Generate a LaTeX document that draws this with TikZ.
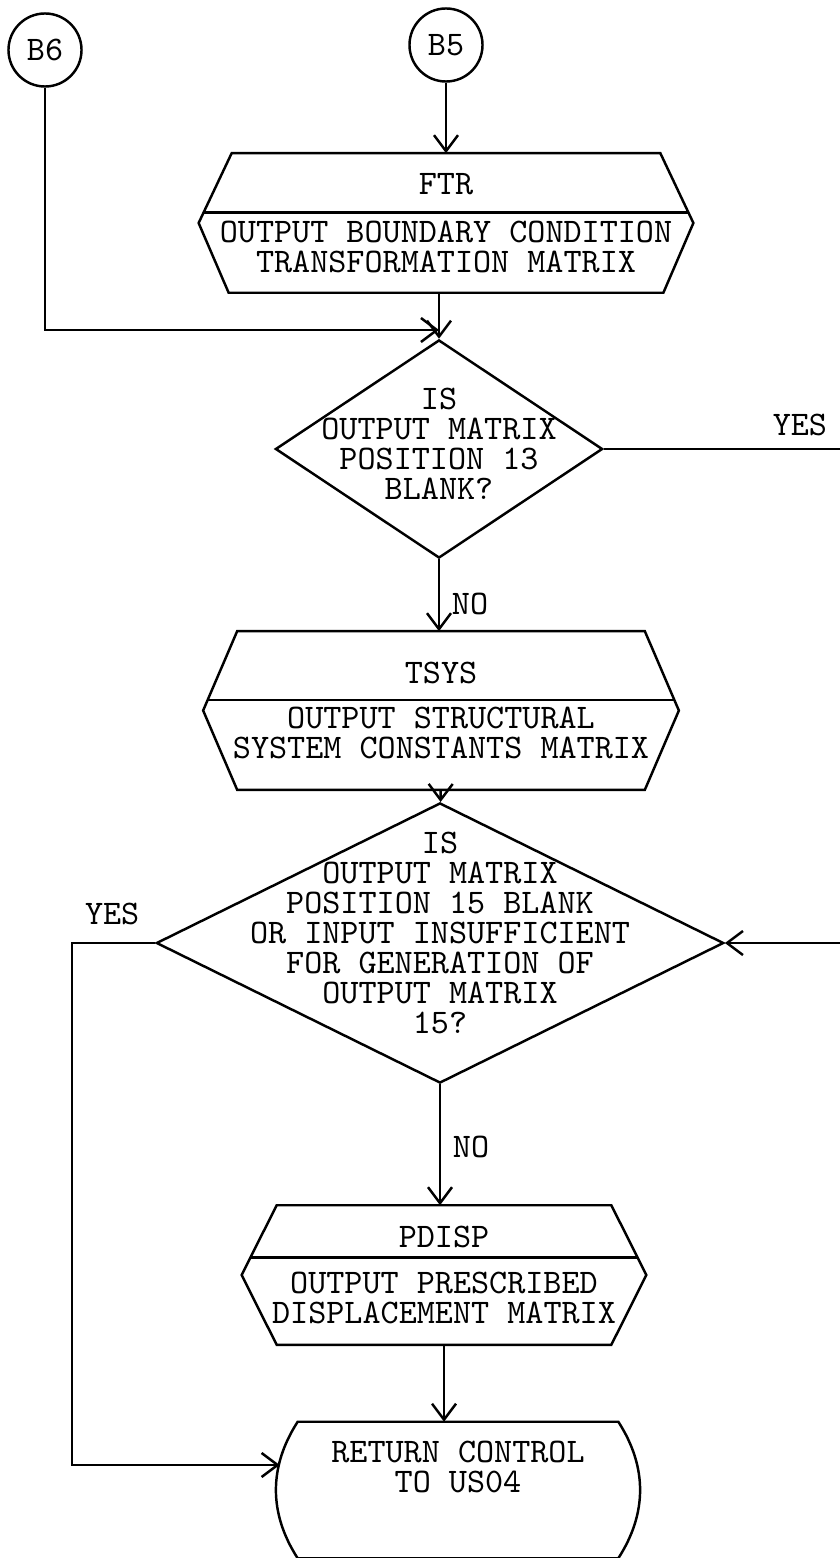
\documentclass[tikz,border=0pt]{standalone}
\usepackage{fontspec}
\usepackage{tikz}
\usetikzlibrary{arrows.meta, calc, positioning, shapes.geometric}

\tikzstyle{connector} = [circle, draw=black, minimum size=0.73cm, inner sep=0pt]
\tikzstyle{outbox} = [rectangle, inner sep=0pt, align=center]
\tikzstyle{decision} = [diamond, draw=black, inner sep=0pt]
\tikzstyle{question} = [align=center, inner sep=0pt]
\tikzstyle{terminal} = [rectangle, inner sep=0pt, align=center, minimum width=3.18cm, minimum height=1.34cm]
\tikzstyle{arrow} = [->, >={Straight Barb[length=1.6mm,width=2.4mm]}]
\tikzset{
  font={\fontsize{9.8}{8.54}\selectfont\ttfamily}}

% output block: hexagon, rule under the title
\newcommand{\outframe}[4]{%
  \draw ([xshift=#2]#1.north west) -- ([xshift=-#2]#1.north east) -- (#1.east)
    -- ([xshift=-#3]#1.south east) -- ([xshift=#3]#1.south west) -- (#1.west) -- cycle;
  \draw ($(#1.west)!#4!([xshift=#2]#1.north west)$) -- ($(#1.east)!#4!([xshift=-#2]#1.north east)$);}
% end block: flat top and bottom, round sides
\newcommand{\termframe}[2]{%
  \draw (#1.north west) -- (#1.north east)
    .. controls +(#2,-0.45cm) and +(#2,0.45cm) .. (#1.south east)
    -- (#1.south west)
    .. controls +(-#2,0.45cm) and +(-#2,-0.45cm) .. cycle;}

\begin{document}
\begin{tikzpicture}[x=0.01cm, y=-0.01cm, line width=0.7pt]
    \useasboundingbox (0,0) rectangle (840,1558);

    \node (b6) [connector] at (45,50) {B6};
    \node (b5) [connector] at (446,45) {B5};
    \node (ftr) [outbox, minimum width=4.92cm, minimum height=1.37cm] at (446,223) {FTR\\[0.18cm]OUTPUT BOUNDARY CONDITION\\TRANSFORMATION MATRIX};
    \node (d1) [decision, minimum width=3.27cm, minimum height=2.18cm] at (439,449) {};
    \node (d1q) [question] at (439,444) {IS\\OUTPUT MATRIX\\POSITION 13\\BLANK?};
    \node (tsys) [outbox, minimum width=4.73cm, minimum height=1.56cm] at (441,710.5) {TSYS\\[0.15cm]OUTPUT STRUCTURAL\\SYSTEM CONSTANTS MATRIX};
    \node (d2) [decision, minimum width=5.67cm, minimum height=2.8cm] at (440,943) {};
    \node (d2q) [question] at (440,933) {IS\\OUTPUT MATRIX\\POSITION 15 BLANK\\OR INPUT INSUFFICIENT\\FOR GENERATION OF\\OUTPUT MATRIX\\15?};
    \node (pdisp) [outbox, minimum width=4.02cm, minimum height=1.37cm] at (444,1275) {PDISP\\[0.16cm]OUTPUT PRESCRIBED\\DISPLACEMENT MATRIX};
    \node (ret) [terminal] at (458,1490) {RETURN CONTROL\\TO US04\\[0.16cm]\mbox{}};

    \outframe{ftr}{0.33cm}{0.30cm}{0.15}
    \outframe{tsys}{0.34cm}{0.34cm}{0.13}
    \outframe{pdisp}{0.35cm}{0.35cm}{0.25}
    \termframe{ret}{0.29cm}

    \coordinate (join) at (439,330);
    \coordinate (d1yes) at (840,449);
    \coordinate (d2in) at (840,943);
    \coordinate (retin) at ([xshift=-0.18cm, yshift=0.25cm]ret.west);

    \draw [arrow] (b5) -- (ftr);
    \draw [arrow] (d1.north |- ftr.south) -- (d1.north);
    \draw [arrow] (b6) |- (join);
    \draw (d1.east) -- (d1yes) node[anchor=south east] {YES};
    \draw [arrow] (d1.south) -- node[anchor=west, pos=0.62] {NO} (d1.south |- tsys.north);
    \draw [arrow] (tsys) -- (d2);
    \draw [arrow] (d2in) -- (d2.east);
    \draw [arrow] (d2.west) -- ++(-0.83cm,0cm) node[anchor=south west, yshift=0.05cm] {YES} |- (retin);
    \draw [arrow] (d2.south) -- node[anchor=west, pos=0.52] {NO} (d2.south |- pdisp.north);
    \draw [arrow] (pdisp.south) -- (pdisp.south |- ret.north);
\end{tikzpicture}
\end{document}
